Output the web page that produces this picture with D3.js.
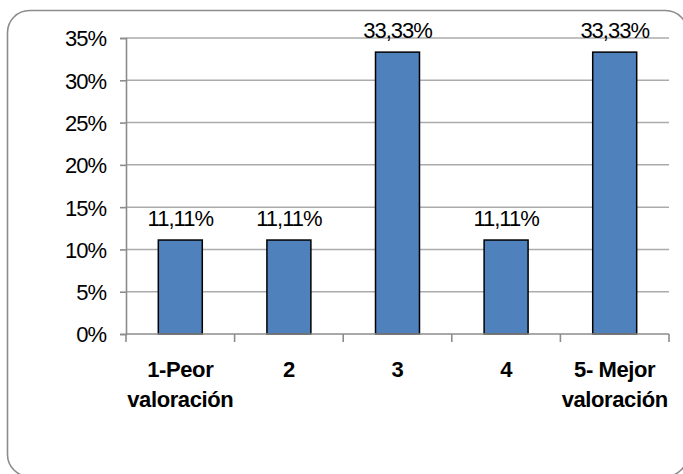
<!DOCTYPE html>
<html>
<head>
<meta charset="utf-8">
<script src="https://cdn.jsdelivr.net/npm/d3@7"></script>
<style>
html,body{margin:0;padding:0;background:#fff;}
svg{display:block;}
text{font-family:"Liberation Sans",Arial,sans-serif;}
</style>
</head>
<body>
<svg id="chart" width="683" height="474"></svg>
<script>
const categories = [["1-Peor","valoración"],["2"],["3"],["4"],["5- Mejor","valoración"]];
const values = [11.11, 11.11, 33.33, 11.11, 33.33];
const valueLabels = ["11,11%","11,11%","33,33%","11,11%","33,33%"];
const yTicks = [0,5,10,15,20,25,30,35];

const svg = d3.select("#chart");
const W = 683, H = 474;
const m = {left:126, right:683-669, top:38, bottom:474-334};

svg.append("rect").attr("x",7.5).attr("y",10.5).attr("width",680).attr("height",466)
  .attr("rx",22).attr("ry",22).attr("fill","#fff").attr("stroke","#8c8c8c").attr("stroke-width",1.6);

const x = d3.scaleBand().domain(d3.range(categories.length)).range([m.left, W-m.right]).paddingInner(0.595).paddingOuter(0.2975);
const xOuter = d3.scaleBand().domain(d3.range(categories.length)).range([m.left, W-m.right]);
const y = d3.scaleLinear().domain([0,35]).range([H-m.bottom, m.top]);

// gridlines
svg.append("g").selectAll("line").data(yTicks.filter(d=>d>0)).join("line")
  .attr("x1",m.left).attr("x2",W-m.right).attr("y1",d=>y(d)).attr("y2",d=>y(d))
  .attr("stroke","#ababab").attr("stroke-width",1.5);

// y axis
const yAxis = d3.axisLeft(y).tickValues(yTicks).tickSize(6).tickPadding(14).tickFormat(d=>d+"%");
const gy = svg.append("g").attr("transform",`translate(${m.left},0)`).call(yAxis);
gy.select(".domain").attr("stroke","#8c8c8c").attr("stroke-width",1.6);
gy.selectAll(".tick line").attr("stroke","#8c8c8c").attr("stroke-width",1.6);
gy.selectAll(".tick text").attr("font-size","22px").attr("letter-spacing","-1px").attr("fill","#000")
  .attr("dy","0.36em");

// bars
svg.append("g").selectAll("rect").data(values).join("rect")
  .attr("x",(d,i)=>x(i)).attr("width",x.bandwidth())
  .attr("y",d=>y(d)).attr("height",d=>y(0)-y(d))
  .attr("fill","#4f81bd").attr("stroke","#000").attr("stroke-width",1.5);

// x axis
const gx = svg.append("g").attr("transform",`translate(0,${y(0)})`);
gx.append("line").attr("x1",m.left).attr("x2",W-m.right).attr("stroke","#8c8c8c").attr("stroke-width",1.6);
gx.selectAll("line.tk").data(d3.range(categories.length+1)).join("line").attr("class","tk")
  .attr("x1",i=>m.left+i*xOuter.step()).attr("x2",i=>m.left+i*xOuter.step())
  .attr("y1",0).attr("y2",8).attr("stroke","#8c8c8c").attr("stroke-width",1.6);

// category labels
const cl = svg.append("g").selectAll("text").data(categories).join("text")
  .attr("text-anchor","middle").attr("font-weight","bold").attr("font-size","22px")
  .attr("letter-spacing","-0.4px").attr("fill","#000");
cl.each(function(d,i){
  const t = d3.select(this);
  d.forEach((s,j)=>{
    t.append("tspan").attr("x",xOuter(i)+xOuter.bandwidth()/2).attr("y",377+j*30).text(s);
  });
});

// value labels
svg.append("g").selectAll("text").data(values).join("text")
  .attr("x",(d,i)=>x(i)+x.bandwidth()/2).attr("y",d=>y(d)-14)
  .attr("text-anchor","middle").attr("font-size","22px").attr("letter-spacing","-1px").attr("fill","#000")
  .text((d,i)=>valueLabels[i]);
</script>
</body>
</html>
